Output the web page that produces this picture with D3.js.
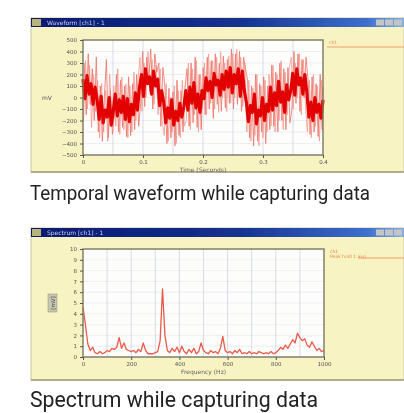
<!DOCTYPE html>
<html>
<head>
<meta charset="utf-8">
<script src="https://cdn.jsdelivr.net/npm/d3@7"></script>
<style>
  body { margin: 0; background: #fff; }
  svg { display: block; }
</style>
</head>
<body>
<svg id="chart" width="404" height="413"></svg>
<script>
// ---- data ----
// core (dark red) trace of the time waveform, mV, evenly spaced over 0..0.4 s
const waveCore = [
  160, -10, 190, 30, 120, -60, 90,
  -20, -190, 10, -220, -110, -170, 0, -240, -120,
  30, -160, -20, -130, 10, -190,
  -10, -210, -60, -150, 40, -110,
  90, 200, 10, 250, 120, 180, 30, 230, 100,
  160, -70, 60,
  -40, -220, -90, -180, -20, -240, -120, -200, -50, -170, -80,
  60, -110, 90, -50, 130, -90, 30, -130, 60,
  -10, 170, 60, 140, 0, 210, 110, 150, 20, 200, 70, 230, 90,
  260, 40, 200, 120, 250, 10, 230, 60,
  -40, -210, -70, -130, 30, -230, -110, -160, 0, -200, -60, -120,
  90, -110, 40, -70, 140, -40, 50, -130, 110, -20,
  60, 210, 20, 250, 110, 170, 30, 200,
  40, -170, -40, -200, 0, -130, -60, -180, -20
];
// light (pink) spikes of the same waveform, mV, two interleaved passes
const waveSpike = [
  300, -150, 380, -60, 250, -200, 350,
  -300, 100, -380, 0, 330, -350, 60, -320, -150,
  200, -300, 150, -260, 100, -340,
  180, -330, 120, -280, 200, -250,
  -50, 400, -80, 350, 150, 420, -100, 380, 220,
  300, -250, 260,
  100, -400, 80, -350, 50, -420, 150, -330, 60, -300, 90,
  250, -250, 300, -220, 350, -260, 200, -280, 260,
  -150, 350, -100, 320, -180, 380, -60, 300, -120, 360, -90, 330, -50,
  420, -100, 380, -60, 400, -120, 350, 250,
  150, -350, 100, -420, 200, -380, 120, -300, 180, -400, 100, -280,
  280, -250, 220, -300, 300, -200, 250, -280, 260, -220,
  -100, 400, -50, 380, -120, 330, 0, 350,
  150, -320, 180, -300, 120, -340, 200, -280, 100
];
const waveSpike2 = [
  -200, 320, -100, 280, -260, 200, -120,
  150, -350, 120, -300, 60, -380, 200, -200, 100,
  -250, 250, -320, 180, -280, 120,
  -350, 100, -300, 220, -200, 150,
  350, -120, 300, 0, 400, 50, 330, -60, 280,
  -150, 250, -200,
  -330, 120, -380, 0, -300, 100, -400, 60, -350, 150, -250,
  -200, 300, -280, 250, -150, 320, -300, 200, -100,
  300, -150, 380, -50, 320, -100, 350, -130, 400, 0, 300, -120, 360,
  -50, 380, 0, 420, 100, 350, -80, 300,
  -300, 150, -380, 80, -330, 200, -420, 100, -350, 150, -300, 200,
  -250, 280, -300, 200, -200, 320, -280, 220, -150, 250,
  350, -100, 300, 0, 380, -150, 330, -50,
  -300, 150, -350, 200, -250, 100, -380, 150, -200
];
const waveDuration = 0.4;
const waveYTicks = [500, 400, 300, 200, 100, 0, -100, -200, -300, -400, -500];
const waveXTicks = [0, 0.1, 0.2, 0.3, 0.4];
const waveXGrid = [0.05, 0.1, 0.15, 0.2, 0.25, 0.3, 0.35];

// spectrum, one value every 10 Hz from 0 to 1000 Hz
const specStep = 10;
const specValues = [
  4.6, 3.0, 1.2, 0.6, 0.9, 0.4, 0.3, 0.5, 0.3, 0.4,
  0.6, 0.5, 0.8, 0.7, 0.9, 1.8, 0.8, 1.3, 0.7, 0.6,
  0.5, 0.6, 0.4, 0.7, 0.5, 1.3, 0.6, 0.3, 0.3, 0.3,
  0.4, 0.5, 1.5, 6.3, 2.0, 0.6, 0.4, 0.8, 0.5, 0.9,
  0.4, 1.0, 0.5, 0.3, 0.7, 0.4, 0.8, 0.3, 0.5, 1.3,
  0.6, 0.4, 0.3, 0.6, 0.4, 0.5, 0.3, 0.8, 1.9, 0.6,
  0.4, 0.5, 0.3, 0.6, 0.4, 0.7, 0.3, 0.4, 0.3, 0.5,
  0.3, 0.4, 0.3, 0.5, 0.4, 0.3, 0.4, 0.3, 0.5, 0.3,
  0.4, 0.6, 0.9, 0.7, 1.1, 0.8, 1.2, 1.6, 1.3, 2.2,
  1.8, 1.5, 1.7, 1.1, 0.9, 1.4, 1.0, 0.6, 0.8, 0.5,
  0.6
];
const specYTicks = [10, 9, 8, 7, 6, 5, 4, 3, 2, 1, 0];
const specXTicks = [0, 200, 400, 600, 800, 1000];
const specXGrid = [100, 200, 300, 400, 500, 600, 700, 800, 900];

const captions = ["Temporal waveform while capturing data", "Spectrum while capturing data"];
const windowTitles = ["Waveform [ch1] - 1", "Spectrum [ch1] - 1"];

// ---- drawing ----
const svg = d3.select("#chart");
const defs = svg.append("defs");

defs.append("filter").attr("id", "soft")
  .attr("x", "-5%").attr("y", "-5%").attr("width", "110%").attr("height", "110%")
  .append("feGaussianBlur").attr("stdDeviation", 0.5);

const grad = defs.append("linearGradient").attr("id", "titlebar")
  .attr("x1", "0%").attr("x2", "100%");
grad.append("stop").attr("offset", "0%").attr("stop-color", "#0b1a70");
grad.append("stop").attr("offset", "55%").attr("stop-color", "#13318f");
grad.append("stop").attr("offset", "90%").attr("stop-color", "#3d6fcc");
grad.append("stop").attr("offset", "100%").attr("stop-color", "#86aee6");

function drawWindow(cfg) {
  const win = svg.append("g").attr("filter", "url(#soft)");

  // window body and title bar
  win.append("rect")
    .attr("x", cfg.x).attr("y", cfg.y)
    .attr("width", cfg.w).attr("height", cfg.h)
    .attr("fill", "#f7f3c3").attr("stroke", "#c9c49c").attr("stroke-width", 1);
  win.append("rect")
    .attr("x", cfg.x).attr("y", cfg.y)
    .attr("width", cfg.w).attr("height", 9)
    .attr("fill", "url(#titlebar)");
  win.append("rect")
    .attr("x", cfg.x + 1).attr("y", cfg.y + 1)
    .attr("width", 9).attr("height", 7)
    .attr("fill", "#b8b37a");
  win.append("text")
    .attr("x", cfg.x + 16).attr("y", cfg.y + 7)
    .attr("font-family", "DejaVu Sans, sans-serif").attr("font-size", 6)
    .attr("fill", "#c9d3f5")
    .text(cfg.title);
  [0, 1, 2].forEach(i => {
    win.append("rect")
      .attr("x", cfg.x + cfg.w - 28 + i * 9).attr("y", cfg.y + 1.5)
      .attr("width", 8).attr("height", 6)
      .attr("fill", "#c4c4c4");
  });
  win.append("line")
    .attr("x1", cfg.x).attr("x2", cfg.x + cfg.w)
    .attr("y1", cfg.y + cfg.h).attr("y2", cfg.y + cfg.h)
    .attr("stroke", "#a59f78").attr("stroke-width", 1.5);

  const x = d3.scaleLinear().domain(cfg.xDomain).range([cfg.left, cfg.right]);
  const y = d3.scaleLinear().domain(cfg.yDomain).range([cfg.bottom, cfg.top]);

  // plot area
  win.append("rect")
    .attr("x", cfg.left).attr("y", cfg.top)
    .attr("width", cfg.right - cfg.left).attr("height", cfg.bottom - cfg.top)
    .attr("fill", "#fdfdfb");

  win.append("g").selectAll("line")
    .data(cfg.yTicks)
    .join("line")
    .attr("x1", cfg.left).attr("x2", cfg.right)
    .attr("y1", d => y(d)).attr("y2", d => y(d))
    .attr("stroke", "#e3e6ee").attr("stroke-width", 0.6);
  win.append("g").selectAll("line")
    .data(cfg.xGrid)
    .join("line")
    .attr("x1", d => x(d)).attr("x2", d => x(d))
    .attr("y1", cfg.top).attr("y2", cfg.bottom)
    .attr("stroke", "#c6cde0").attr("stroke-width", 0.7);

  cfg.drawData(win, x, y);

  // frame
  win.append("rect")
    .attr("x", cfg.left).attr("y", cfg.top)
    .attr("width", cfg.right - cfg.left).attr("height", cfg.bottom - cfg.top)
    .attr("fill", "none").attr("stroke", "#7a7a5e").attr("stroke-width", 1.4);

  // axes
  const yAxis = d3.axisLeft(y).tickValues(cfg.yTicks).tickSizeInner(3).tickSizeOuter(0).tickPadding(3);
  const xAxis = d3.axisBottom(x).tickValues(cfg.xTicks).tickSizeInner(3).tickSizeOuter(0).tickPadding(2)
    .tickFormat(cfg.xFormat);
  const gy = win.append("g").attr("transform", `translate(${cfg.left},0)`).call(yAxis);
  const gx = win.append("g").attr("transform", `translate(0,${cfg.bottom})`).call(xAxis);
  [gx, gy].forEach(g => {
    g.select(".domain").remove();
    g.selectAll(".tick line").attr("stroke", "#555");
    g.selectAll(".tick text")
      .attr("font-family", "DejaVu Sans, sans-serif").attr("font-size", 5.5)
      .attr("fill", "#555");
  });

  // axis titles
  win.append("text")
    .attr("x", (cfg.left + cfg.right) / 2).attr("y", cfg.bottom + 17)
    .attr("text-anchor", "middle")
    .attr("font-family", "DejaVu Sans, sans-serif").attr("font-size", 6)
    .attr("fill", "#666")
    .text(cfg.xTitle);
  cfg.drawYTitle(win, (cfg.top + cfg.bottom) / 2);

  // legend to the right of the plot
  win.append("text")
    .attr("x", cfg.right + 6).attr("y", cfg.top + 4)
    .attr("font-family", "DejaVu Sans, sans-serif").attr("font-size", 4.5)
    .attr("fill", "#ee8a50")
    .text(cfg.legend[0]);
  if (cfg.legend[1]) {
    win.append("text")
      .attr("x", cfg.right + 6).attr("y", cfg.top + 9)
      .attr("font-family", "DejaVu Sans, sans-serif").attr("font-size", 4.5)
      .attr("fill", "#ee8a50")
      .text(cfg.legend[1]);
  }
  win.append("line")
    .attr("x1", cfg.right + cfg.legendLineFrom).attr("x2", cfg.x + cfg.w)
    .attr("y1", cfg.top + cfg.legendLineY).attr("y2", cfg.top + cfg.legendLineY)
    .attr("stroke", "#f0a26a").attr("stroke-width", 1.1);
}

// waveform window
const waveDt = waveDuration / (waveCore.length - 1);
drawWindow({
  x: 31, y: 18, w: 373, h: 154,
  title: windowTitles[0],
  left: 83, right: 323, top: 40, bottom: 155,
  xDomain: [0, waveDuration], yDomain: [-500, 500],
  yTicks: waveYTicks, xTicks: waveXTicks, xGrid: waveXGrid,
  xFormat: d => d === 0 ? "0" : d3.format(".1f")(d),
  xTitle: "Time (Seconds)",
  legend: ["ch1"], legendLineFrom: 4, legendLineY: 7,
  drawYTitle: (g, cy) => {
    g.append("text")
      .attr("x", 47).attr("y", cy + 2)
      .attr("text-anchor", "middle")
      .attr("font-family", "DejaVu Sans, sans-serif").attr("font-size", 6)
      .attr("fill", "#555")
      .text("mV");
  },
  drawData: (g, x, y) => {
    const clampT = t => Math.min(waveDuration, t);
    const spikeLine = off => d3.line()
      .x((d, i) => x(clampT(i * waveDt + off)))
      .y(d => y(d));
    const coreLine = d3.line()
      .x((d, i) => x(i * waveDt))
      .y(d => y(d));
    g.append("path").datum(waveSpike2)
      .attr("d", spikeLine(waveDt * 0.25))
      .attr("fill", "none").attr("stroke", "#f4968c").attr("stroke-width", 0.75);
    g.append("path").datum(waveSpike)
      .attr("d", spikeLine(waveDt * 0.6))
      .attr("fill", "none").attr("stroke", "#ef766c").attr("stroke-width", 0.85);
    g.append("path").datum(waveCore)
      .attr("d", coreLine)
      .attr("fill", "none").attr("stroke", "#e20606").attr("stroke-width", 3.2)
      .attr("stroke-linejoin", "round");
  }
});

// spectrum window
drawWindow({
  x: 31, y: 228, w: 373, h: 152,
  title: windowTitles[1],
  left: 83, right: 324, top: 249, bottom: 357,
  xDomain: [0, 1000], yDomain: [0, 10],
  yTicks: specYTicks, xTicks: specXTicks, xGrid: specXGrid,
  xFormat: d3.format("d"),
  xTitle: "Frequency (Hz)",
  legend: ["ch1", "Peak hold  1 avg"], legendLineFrom: 34, legendLineY: 9,
  drawYTitle: (g, cy) => {
    g.append("rect")
      .attr("x", 48).attr("y", cy - 9)
      .attr("width", 9).attr("height", 18)
      .attr("fill", "#c9c6b2").attr("stroke", "#8e8b78").attr("stroke-width", 0.5);
    g.append("text")
      .attr("transform", `translate(54.5,${cy}) rotate(-90)`)
      .attr("text-anchor", "middle")
      .attr("font-family", "DejaVu Sans, sans-serif").attr("font-size", 5.5)
      .attr("fill", "#444")
      .text("[mV]");
  },
  drawData: (g, x, y) => {
    const line = d3.line()
      .x((d, i) => x(i * specStep))
      .y(d => y(d));
    g.append("path").datum(specValues)
      .attr("d", line)
      .attr("fill", "none").attr("stroke", "#ea5a48").attr("stroke-width", 1.3)
      .attr("stroke-linejoin", "round");
  }
});

// captions below each window
const captionY = [200, 407];
const captionSize = [20, 21.5];
const captionW = [340, 288];
captions.forEach((c, i) => {
  svg.append("text")
    .attr("x", 30).attr("y", captionY[i])
    .attr("font-family", "Roboto, 'Liberation Sans', sans-serif")
    .attr("font-size", captionSize[i])
    .attr("fill", "#222")
    .attr("textLength", captionW[i])
    .attr("lengthAdjust", "spacingAndGlyphs")
    .text(c);
});
</script>
</body>
</html>
